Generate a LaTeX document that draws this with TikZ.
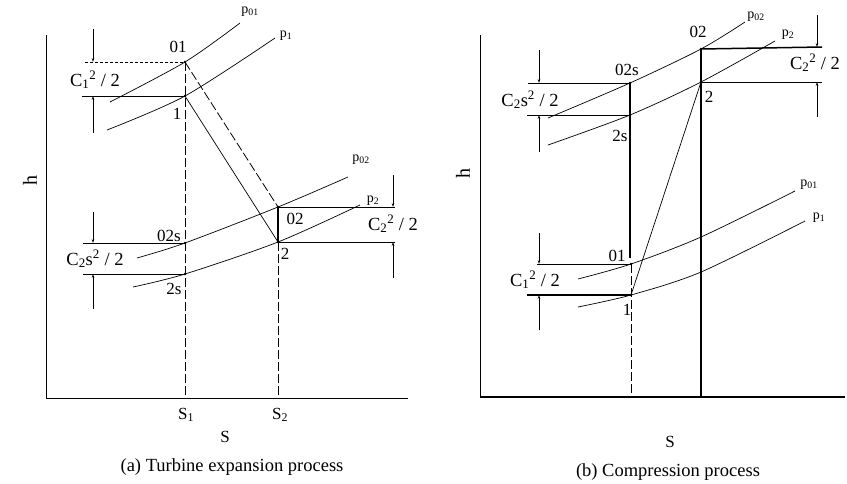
\documentclass[tikz,border=0pt]{standalone}
\usepackage{fontspec}
\setmainfont{Liberation Serif}
\usetikzlibrary{arrows.meta}
\tikzset{
  ln/.style={line width=0.7pt},
  thk/.style={line width=1.5pt},
  dsh/.style={line width=0.8pt, dash pattern=on 9pt off 3pt},
  dim/.style={line width=0.7pt, -{Stealth[length=4pt,width=2.6pt]}},
  curve/.style={line width=0.7pt},
  ptlab/.style={font=\fontsize{17}{17}\selectfont, inner sep=0pt},
  clab/.style={font=\fontsize{18.5}{18.5}\selectfont, inner sep=0pt},
  plab/.style={font=\fontsize{14}{14}\selectfont, inner sep=0pt},
  axlab/.style={font=\fontsize{17}{17}\selectfont, inner sep=0pt},
  hlab/.style={font=\fontsize{20}{20}\selectfont, inner sep=0pt},
  captext/.style={font=\fontsize{18.5}{18.5}\selectfont, inner sep=0pt},
  dot/.style={circle, fill, inner sep=0pt, minimum size=2.6pt}
}
\begin{document}
\begin{tikzpicture}[x=1pt,y=-1pt]
\useasboundingbox (0,0) rectangle (847,483);
% ================= (a) =================
\coordinate (aO) at (46,398);
\coordinate (aT) at (46,35);
\coordinate (aR) at (408,398);
\draw[ln] (aT) -- (aO) -- (aR);
\node[hlab, rotate=90] (ah) at (30,180) {h};
\coordinate (a01) at (185,62);
\coordinate (a1) at (185,96);
\coordinate (a02) at (278,207);
\coordinate (a2) at (278,242);
\coordinate (a02s) at (185,243);
\coordinate (a2s) at (185,274);
\coordinate (aS1) at (185,398);
\coordinate (aS2) at (278,398);
% isobars
\draw[curve] plot[smooth] coordinates {(110,102) (a01) (240,23)};
\draw[curve] plot[smooth] coordinates {(107,130) (a1) (275,38)};
\draw[curve] plot[smooth] coordinates {(137,258) (a02s) (a02) (348,177)};
\draw[curve] plot[smooth] coordinates {(133,287) (a2s) (a2) (360,205)};
% verticals
\draw[dsh] (a01) -- (aS1);
\draw[dsh, line width=1pt] (a2) -- (aS2);
\draw[line width=1.2pt] (a02) -- (a2);
% process lines
\draw[ln] (a1) -- (a2);
\draw[dsh] (a01) -- (a02);
% horizontals
\draw[line width=0.9pt, densely dashed] (85,62) -- (a01);
\draw[ln] (82,96) -- (a1);
\draw[ln] (83,243) -- (a02s);
\draw[ln] (83,274) -- (a2s);
\draw[ln] (a02) -- (395,207);
\draw[ln] (a2) -- (395,242);
% dimension arrows
\draw[dim] (93,29) -- (93,62);
\draw[dim] (93,133) -- (93,96);
\draw[dim] (93,212) -- (93,243);
\draw[dim] (93,309) -- (93,274);
\draw[dim] (393,175) -- (393,207);
\draw[dim] (393,278) -- (393,242);
% dots
\foreach \p in {a01,a1,a02,a2,a02s,a2s} \node[dot] at (\p) {};
% labels
\node[ptlab] (l01) at (178,47) {01};
\node[ptlab] (l1) at (177,114) {1};
\node[ptlab] (l02) at (295,219) {02};
\node[ptlab] (l2) at (285,254) {2};
\node[ptlab] (l02s) at (169,236) {02s};
\node[ptlab] (l2s) at (174,289) {2s};
\node[clab] (ac1) at (95,80) {C\textsubscript{1}\textsuperscript{2} / 2};
\node[clab] (ac2s) at (95,259) {C\textsubscript{2}s\textsuperscript{2} / 2};
\node[clab] (ac2) at (393,224) {C\textsubscript{2}\textsuperscript{2} / 2};
\node[plab] (ap01) at (250,12) {p\textsubscript{01}};
\node[plab] (ap1) at (286,36) {p\textsubscript{1}};
\node[plab] (ap02) at (361,160) {p\textsubscript{02}};
\node[plab] (ap2) at (373,201) {p\textsubscript{2}};
\node[axlab] (aS1l) at (186,415) {S\textsubscript{1}};
\node[axlab] (aS2l) at (280,415) {S\textsubscript{2}};
\node[axlab] (aSl) at (225,437) {S};
\node[captext] (acap) at (232,467) {(a) Turbine expansion process};
% ================= (b) =================
\coordinate (bO) at (480,397);
\coordinate (bT) at (480,35);
\coordinate (bR) at (845,397);
\draw[ln] (bT) -- (bO);
\draw[line width=1.3pt] (bO) -- (bR);
\node[hlab, rotate=90] (bh) at (463,173) {h};
\coordinate (b02) at (701,49);
\coordinate (b02s) at (630,83);
\coordinate (b2) at (701,82);
\coordinate (b2s) at (630,115);
\coordinate (b01) at (631,264);
\coordinate (b1) at (631,295);
\coordinate (bS1) at (631,397);
\coordinate (bS2) at (701,397);
% isobars
\draw[curve] plot[smooth] coordinates {(548,118) (b02s) (b02) (745,22)};
\draw[curve] plot[smooth] coordinates {(548,145) (b2s) (b2) (775,41)};
\draw[curve] plot[smooth] coordinates {(578,279) (b01) (701,237) (795,191)};
\draw[curve] plot[smooth] coordinates {(578,307) (b1) (701,272) (805,221)};
% verticals
\draw[thk] (b02) -- (bS2);
\draw[line width=1.4pt] (b02s) -- (630,258);
\draw[dsh] (b01) -- (bS1);
% process line
\draw[ln] (b1) -- (b2);
% horizontals
\draw[thk] (b02) -- (822,47);
\draw[ln] (b2) -- (822,82);
\draw[ln] (528,83) -- (b02s);
\draw[ln] (527,115) -- (b2s);
\draw[ln] (537,264) -- (b01);
\draw[line width=1.4pt] (527,295) -- (b1);
% dimension arrows
\draw[dim] (817,15) -- (817,47);
\draw[dim] (817,117) -- (817,82);
\draw[dim] (539,50) -- (539,83);
\draw[dim] (539,152) -- (539,115);
\draw[dim] (539,233) -- (539,264);
\draw[dim] (539,330) -- (539,295);
% dots
\foreach \p in {b02,b02s,b2,b2s,b01,b1} \node[dot] at (\p) {};
% labels
\node[ptlab] (m02) at (698,32) {02};
\node[ptlab] (m02s) at (627,70) {02s};
\node[ptlab] (m2) at (709,97) {2};
\node[ptlab] (m2s) at (620,136) {2s};
\node[ptlab] (m01) at (617,256) {01};
\node[ptlab] (m1) at (627,310) {1};
\node[clab] (bc2s) at (530,100) {C\textsubscript{2}s\textsuperscript{2} / 2};
\node[clab] (bc2) at (815,63) {C\textsubscript{2}\textsuperscript{2} / 2};
\node[clab] (bc1) at (535,280) {C\textsubscript{1}\textsuperscript{2} / 2};
\node[plab] (bp02) at (756,17) {p\textsubscript{02}};
\node[plab] (bp2) at (788,35) {p\textsubscript{2}};
\node[plab] (bp01) at (809,185) {p\textsubscript{01}};
\node[plab] (bp1) at (819,218) {p\textsubscript{1}};
\node[axlab] (bSl) at (670,442) {S};
\node[captext] (bcap) at (668,472) {(b) Compression process};
\end{tikzpicture}
\end{document}
